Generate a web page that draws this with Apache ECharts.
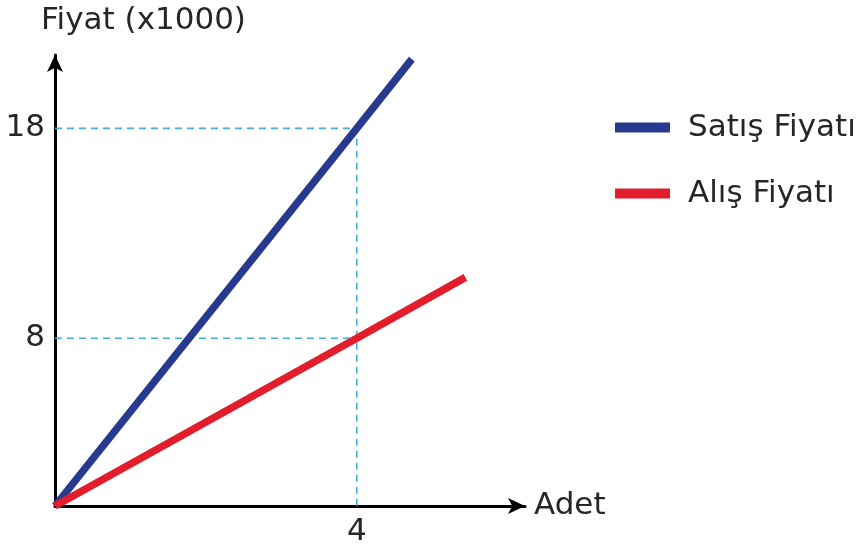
<!DOCTYPE html>
<html>
<head>
<meta charset="utf-8">
<script src="https://cdn.jsdelivr.net/npm/echarts@6/dist/echarts.min.js"></script>
<style>
  html, body { margin: 0; padding: 0; background: #ffffff; }
  #chart { width: 863px; height: 547px; }
</style>
</head>
<body>
<div id="chart"></div>
<script>
// ---- data ----
const seriesNames = ['Satış Fiyatı', 'Alış Fiyatı'];
const satisX = [0, 4, 4.73];
const satisY = [0, 18, 21.3];
const alisX = [0, 4, 5.44];
const alisY = [0, 8, 10.9];
const xTicks = [4];
const yTicks = [8, 18];
const yAxisTitle = 'Fiyat (x1000)';
const xAxisTitle = 'Adet';

const FONT = 'DejaVu Sans';
const TEXT = '#262626';

const pairs = (xs, ys) => xs.map((x, i) => [x, ys[i]]);

// guide lines built from tick values (x at 4 meets each price)
const guideHigh = [[0, yTicks[1]], [xTicks[0], yTicks[1]], [xTicks[0], 0]];
const guideLow = [[0, yTicks[0]], [xTicks[0], yTicks[0]]];

const chart = echarts.init(document.getElementById('chart'), null, { renderer: 'canvas' });

const guideStyle = { color: '#3fb0e0', width: 1.6, type: [7, 5] };

chart.setOption({
  animation: false,
  backgroundColor: '#ffffff',
  title: {
    text: yAxisTitle,
    left: 41,
    top: 5,
    padding: 0,
    textStyle: { fontFamily: FONT, fontSize: 31, fontWeight: 'normal', color: TEXT }
  },
  legend: {
    orient: 'vertical',
    left: 610,
    top: 107,
    itemWidth: 55,
    itemHeight: 10,
    itemGap: 35,
    icon: 'rect',
    data: seriesNames,
    textStyle: { fontFamily: FONT, fontSize: 31, color: TEXT, padding: [0, 0, 0, 13] }
  },
  grid: { left: 55, right: 338, top: 55, bottom: 40.5, containLabel: false },
  xAxis: {
    type: 'value',
    min: 0,
    max: 6.23,
    name: xAxisTitle,
    nameLocation: 'end',
    nameGap: 9,
    nameTextStyle: { fontFamily: FONT, fontSize: 31, color: TEXT, verticalAlign: 'middle', padding: [0, 0, 10, 0] },
    axisLine: { show: true, symbol: ['none', 'arrow'], symbolSize: [12, 17], lineStyle: { color: '#000000', width: 3 } },
    axisTick: { show: false },
    splitLine: { show: false },
    axisLabel: { customValues: xTicks, margin: 10, fontFamily: FONT, fontSize: 31, color: TEXT }
  },
  yAxis: {
    type: 'value',
    min: 0,
    max: 21.5,
    axisLine: { show: true, symbol: ['none', 'arrow'], symbolSize: [12, 17], lineStyle: { color: '#000000', width: 3 } },
    axisTick: { show: false },
    splitLine: { show: false },
    axisLabel: { customValues: yTicks, margin: 10, fontFamily: FONT, fontSize: 31, color: TEXT }
  },
  series: [
    {
      name: 'guideHigh', type: 'line', data: guideHigh, showSymbol: false, silent: true,
      lineStyle: guideStyle, z: 1
    },
    {
      name: 'guideLow', type: 'line', data: guideLow, showSymbol: false, silent: true,
      lineStyle: guideStyle, z: 1
    },
    {
      name: seriesNames[0], type: 'line', data: pairs(satisX, satisY), showSymbol: false,
      clip: false, color: '#283a8f', lineStyle: { color: '#283a8f', width: 7.5 }, z: 3
    },
    {
      name: seriesNames[1], type: 'line', data: pairs(alisX, alisY), showSymbol: false,
      clip: false, color: '#e31e2c', lineStyle: { color: '#e31e2c', width: 7.5 }, z: 4
    }
  ]
});
</script>
</body>
</html>
